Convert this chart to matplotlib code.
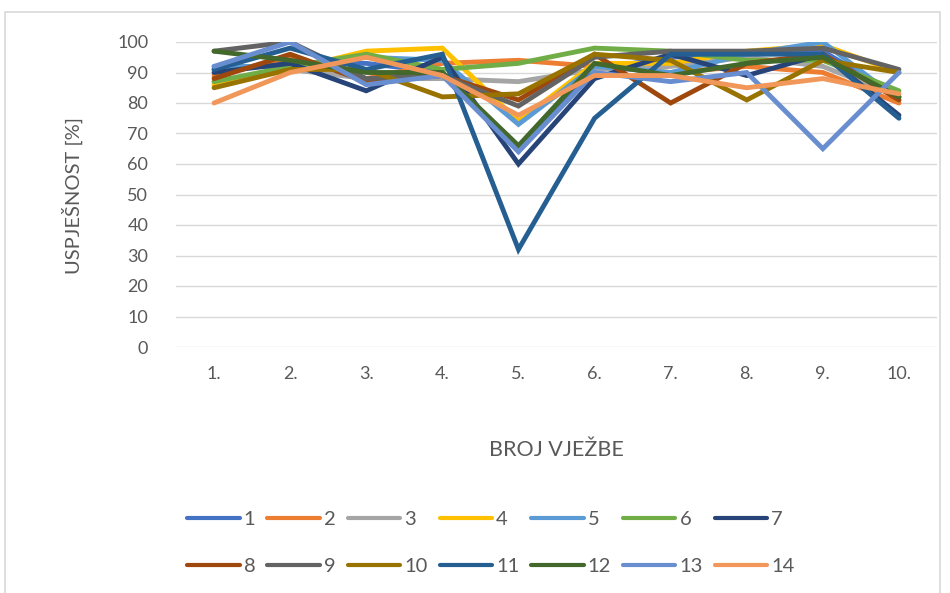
import matplotlib
matplotlib.use('Agg')
import matplotlib.pyplot as plt
from matplotlib.patches import Rectangle

# broj vježbe (x kategorije)
vjezbe = ['1.', '2.', '3.', '4.', '5.', '6.', '7.', '8.', '9.', '10.']

# uspješnost po ispitaniku [%]
s1 = [91, 93, 93, 90, 65, 91, 95, 96, 97, 82]
s2 = [89, 95, 88, 93, 94, 92, 90, 92, 90, 80]
s3 = [87, 91, 88, 88, 87, 91, 92, 95, 92, 82]
s4 = [86, 91, 97, 98, 74, 93, 93, 97, 99, 90]
s5 = [92, 92, 95, 94, 73, 92, 90, 96, 100, 81]
s6 = [87, 92, 96, 91, 93, 98, 97, 94, 94, 84]
s7 = [90, 93, 84, 95, 60, 88, 96, 89, 96, 76]
s8 = [88, 96, 87, 89, 81, 96, 80, 93, 96, 81]
s9 = [97, 100, 88, 89, 79, 95, 97, 97, 98, 91]
s10 = [85, 91, 91, 82, 83, 96, 94, 81, 94, 90]
s11 = [91, 98, 91, 96, 32, 75, 96, 96, 96, 75]
s12 = [97, 94, 90, 90, 66, 93, 89, 93, 95, 82]
s13 = [92, 100, 86, 89, 64, 90, 87, 90, 65, 90]
s14 = [80, 90, 95, 89, 76, 89, 89, 85, 88, 83]

serije = [s1, s2, s3, s4, s5, s6, s7, s8, s9, s10, s11, s12, s13, s14]
nazivi = [str(i) for i in range(1, 15)]
boje = ['#4472C4', '#ED7D31', '#A5A5A5', '#FFC000', '#5B9BD5', '#70AD47', '#264478',
        '#9E480E', '#636363', '#997300', '#255E91', '#43682B', '#698ED0', '#F1975A']

plt.rcParams['font.family'] = ['Lato', 'DejaVu Sans']
siva = '#595959'

fig = plt.figure(figsize=(9.5, 5.93), dpi=100)
ax = fig.add_axes([176 / 950, 1 - 347 / 593, (937 - 176) / 950, (347 - 42) / 593])

x = list(range(1, len(vjezbe) + 1))
linije = []
for vals, naziv, boja in zip(serije, nazivi, boje):
    l, = ax.plot(x, vals, color=boja, lw=3.5, label=naziv, solid_joinstyle='miter',
                 solid_capstyle='round')
    linije.append(l)

ax.set_xlim(0.5, len(vjezbe) + 0.5)
ax.set_ylim(0, 100)
ax.set_yticks(range(0, 101, 10))
ax.set_xticks(x)
ax.set_xticklabels(vjezbe)
ax.grid(axis='y', color='#D9D9D9', lw=1)
ax.set_axisbelow(True)
for sp in ax.spines.values():
    sp.set_visible(False)
ax.tick_params(length=0, labelsize=13, colors=siva)
ax.tick_params(axis='y', pad=20)
ax.tick_params(axis='x', pad=14)

fig.text(72 / 950, 1 - 195 / 593, 'USPJEŠNOST [%]', rotation=90, ha='center', va='center',
         fontsize=14.5, color=siva)
fig.text(556 / 950, 1 - 450 / 593, 'BROJ VJEŽBE', ha='center', va='center',
         fontsize=15.5, color=siva)

# legenda se puni po redovima kao u Excelu
ncol = 7
red = []
for c in range(ncol):
    for r in range(2):
        red.append(linije[r * ncol + c])
leg = fig.legend(red, [l.get_label() for l in red], loc='center',
                 bbox_to_anchor=(491 / 950, 1 - 543 / 593), ncol=ncol,
                 frameon=False, fontsize=14.5, handlelength=2.6, handletextpad=0.2,
                 columnspacing=0.6, labelspacing=1.45)
for t in leg.get_texts():
    t.set_color(siva)
for h in leg.legend_handles:
    h.set_linewidth(3.0)

# okvir grafikona
fig.patches.append(Rectangle((5 / 950, -0.01), 935 / 950, 1 - 12 / 593 + 0.01,
                             transform=fig.transFigure, fill=False, ec='#D9D9D9', lw=1.2))

fig.savefig('out.png', dpi=100)
